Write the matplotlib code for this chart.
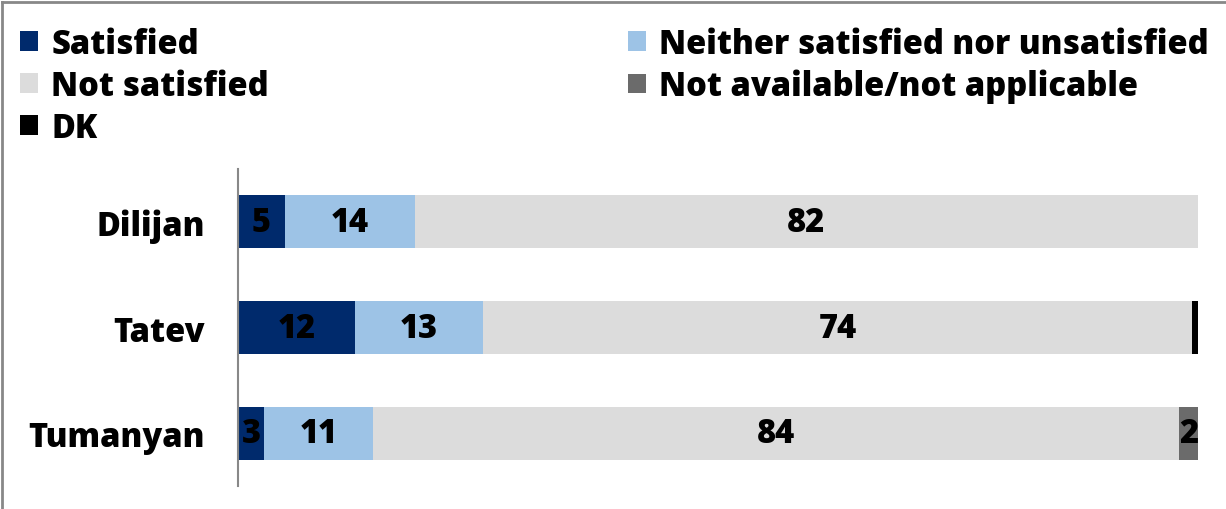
import numpy as np
import matplotlib.pyplot as plt
from matplotlib.patches import Patch
from matplotlib.lines import Line2D

plt.rcParams['font.family'] = ['Open Sans', 'DejaVu Sans']
plt.rcParams['font.weight'] = 'heavy'

towns = ['Dilijan', 'Tatev', 'Tumanyan']
series = ['Satisfied', 'Neither satisfied nor unsatisfied', 'Not satisfied',
          'Not available/not applicable', 'DK']
satisfied = [4.9, 12.2, 2.7]
neither = [13.5, 13.3, 11.4]
not_satisfied = [81.6, 73.9, 83.9]
not_available = [0.0, 0.0, 2.0]
dk = [0.0, 0.6, 0.0]
colors = ['#002A6C', '#9DC3E6', '#DCDCDC', '#6B6B6B', '#000000']

values = [satisfied, neither, not_satisfied, not_available, dk]
FS = 23.5

fig = plt.figure(figsize=(12.26, 5.10), dpi=100)
ax = fig.add_axes([238 / 1226, 23 / 510, (1198 - 238) / 1226, (487 - 170) / 510])

y = np.arange(len(towns))
left = np.zeros(len(towns))
for name, vals, col in zip(series, values, colors):
    vals = np.array(vals)
    ax.barh(y, vals, left=left, height=0.5, color=col, label=name)
    for i, v in enumerate(vals):
        if v >= 1.5:
            ax.text(left[i] + v / 2, y[i], f'{round(v):d}', ha='center', va='center',
                    fontsize=FS, fontweight='heavy', color='black')
    left += vals

ax.set_xlim(0, 100)
ax.set_ylim(2.5, -0.5)
ax.set_yticks(y)
ax.set_yticklabels(towns, fontsize=FS, fontweight='heavy')
ax.tick_params(axis='y', length=0, pad=24)
ax.set_xticks([])
for s in ['top', 'right', 'bottom']:
    ax.spines[s].set_visible(False)
ax.spines['left'].set_color('#888888')
ax.spines['left'].set_linewidth(1.5)

# legend: fills columns first, so reorder to read row by row
order = [0, 2, 4, 1, 3]
handles = [Patch(facecolor=colors[k], edgecolor='none') for k in order]
labels = [series[k] for k in order]
fig.legend(handles, labels, ncol=2, loc='upper left', bbox_to_anchor=(0.006, 0.971),
           frameon=False, prop={'size': FS, 'weight': 'heavy'},
           handlelength=0.55, handleheight=0.55, handletextpad=0.4,
           columnspacing=11.0, labelspacing=0.24, borderaxespad=0)

# outer frame (top and left edge visible)
fig.add_artist(Line2D([2 / 1226, 1], [1 - 3 / 510, 1 - 3 / 510], color='#888888', lw=2))
fig.add_artist(Line2D([2 / 1226, 2 / 1226], [0, 1 - 3 / 510], color='#888888', lw=2))

fig.savefig('out.png', dpi=100)
